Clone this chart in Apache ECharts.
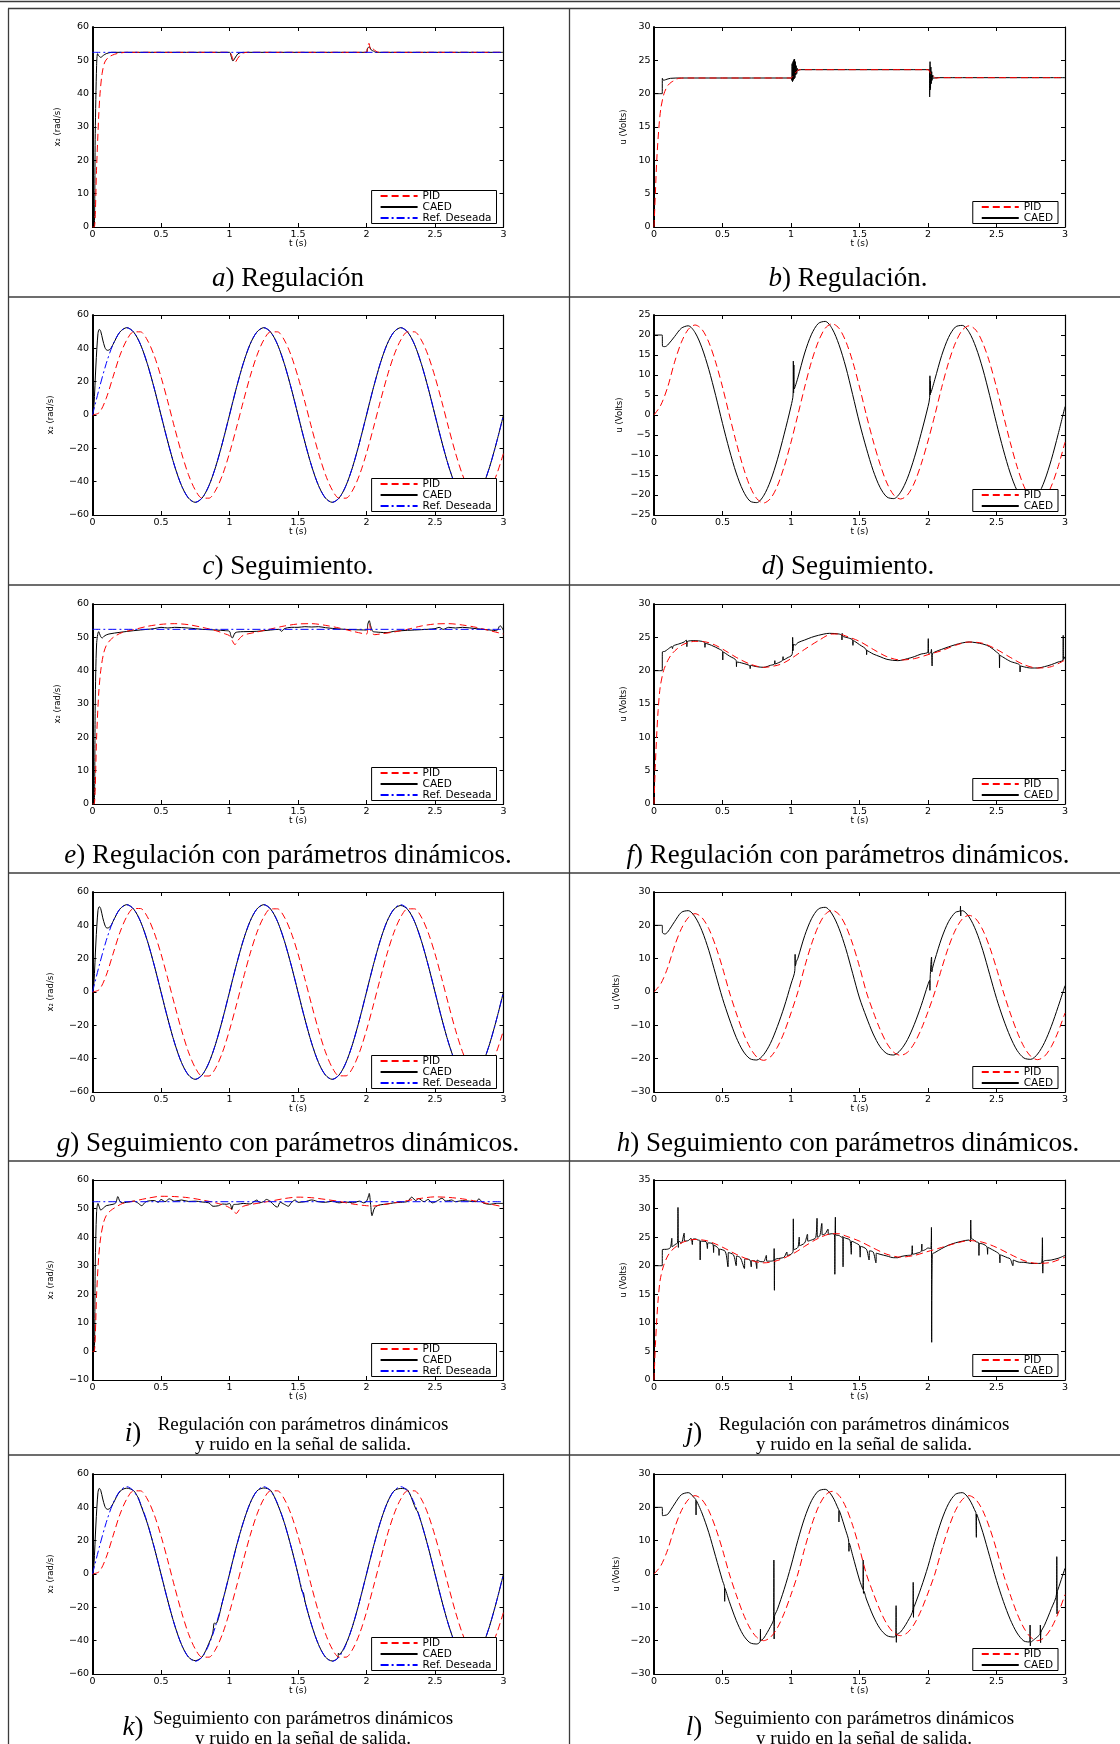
<!DOCTYPE html>
<html>
<head>
<meta charset="utf-8">
<title>Regulación y seguimiento: PID vs CAED</title>
<script src="https://cdn.jsdelivr.net/npm/echarts@6/dist/echarts.min.js"></script>
<style>
    html, body { margin: 0; padding: 0; background: #fff; }
    #main { width: 1120px; height: 1744px; }
</style>
</head>
<body>
<div id="main"></div>
<script>
;(function () {
    'use strict';

    // rejilla de tiempo de los ensayos de seguimiento (paso 0.05 s)
    var T = [0,0.05,0.1,0.15,0.2,0.25,0.3,0.35,0.4,0.45,0.5,0.55,0.6,0.65,0.7,0.75,0.8,0.85,0.9,0.95,
        1,1.05,1.1,1.15,1.2,1.25,1.3,1.35,1.4,1.45,1.5,1.55,1.6,1.65,1.7,1.75,1.8,1.85,1.9,1.95,
        2,2.05,2.1,2.15,2.2,2.25,2.3,2.35,2.4,2.45,2.5,2.55,2.6,2.65,2.7,2.75,2.8,2.85,2.9,2.95,3];

    // a) regulacion, x2
    var aRef = [[0,52.4],[3,52.4]];
    var aCAED = [[0,0],[0.012,0],[0.02,28],[0.03,48.5],[0.037,52.0],[0.045,51.4],[0.06,50.9],[0.08,51.5],[0.1,52.0],[0.14,52.4],
        [1.0,52.4],[1.012,51.2],[1.025,49.8],[1.04,50.7],[1.06,51.9],[1.08,52.3],[1.12,52.4],
        [2.0,52.4],[2.006,53.4],[2.02,54.1],[2.035,53.1],[2.05,52.8],[2.07,52.4],[3,52.4]];
    var aPID = [[0,0],[0.013,0],[0.03,18],[0.045,33],[0.055,40],[0.07,46],[0.09,49.5],[0.12,51.0],[0.16,51.8],[0.2,52.2],[0.25,52.4],
        [1.0,52.4],[1.015,51.5],[1.03,49.8],[1.04,49.4],[1.06,50.6],[1.08,51.6],[1.1,52.2],[1.13,52.4],
        [2.0,52.4],[2.008,54.0],[2.018,55.1],[2.03,53.2],[2.04,53.6],[2.06,53.0],[2.08,52.5],[2.1,52.4],[3,52.4]];

    // b) regulacion, u
    var bCAED = [[0,20],[0.06,20],[0.061,22.3],[0.07,22.0],[0.085,22.1],[0.12,22.3],[0.2,22.35],[1.0,22.35],
        [1.005,22.0],[1.008,24.5],[1.011,21.8],[1.014,24.8],[1.017,22.0],[1.02,25.1],[1.023,22.2],[1.026,25.2],[1.029,22.4],
        [1.032,24.8],[1.035,22.8],[1.038,24.2],[1.042,23.0],[1.046,23.8],[1.05,23.5],[1.07,23.6],[2.0,23.6],[2.01,23.6],
        [2.012,19.5],[2.015,24.8],[2.018,20.6],[2.021,24.0],[2.024,21.5],[2.027,23.3],[2.03,22.0],[2.035,22.8],[2.04,22.3],
        [2.06,22.4],[3,22.4]];
    var bPID = [[0,0],[0.005,2.5],[0.01,5],[0.02,10],[0.036,15],[0.05,17.8],[0.073,20],[0.1,21.2],[0.125,21.7],[0.15,22.0],
        [0.18,22.3],[0.25,22.35],[1.0,22.35],[1.02,22.8],[1.04,23.3],[1.06,23.6],[2.0,23.6],[2.02,23.0],[2.04,22.6],
        [2.06,22.3],[2.08,22.4],[3,22.4]];

    // c) seguimiento, x2
    var cRef = [0,16.2,30.8,42.4,49.8,52.4,49.8,42.4,30.8,16.2,0,-16.2,-30.8,-42.4,-49.8,-52.4,-49.8,-42.4,-30.8,-16.2,
        0,16.2,30.8,42.4,49.8,52.4,49.8,42.4,30.8,16.2,0,-16.2,-30.8,-42.4,-49.8,-52.4,-49.8,-42.4,-30.8,-16.2,
        0,16.2,30.8,42.4,49.8,52.4,49.8,42.4,30.8,16.2,0,-16.2,-30.8,-42.4,-49.8,-52.4,-49.8,-42.4,-30.8,-16.2,0];
    var cCAED = [0,51.4,39.2,42.4,49.8,52.4,49.8,42.4,30.8,16.2,0,-16.2,-30.8,-42.4,-49.8,-52.4,-49.8,-42.4,-30.8,-16.2,
        0,16.2,30.8,42.4,49.8,52.4,49.8,42.4,30.8,16.2,0,-16.2,-30.8,-42.4,-49.8,-52.4,-49.8,-42.4,-30.8,-16.2,
        0,16.2,30.8,42.4,49.8,52.4,49.8,42.4,30.8,16.2,0,-16.2,-30.8,-42.4,-49.8,-52.4,-49.8,-42.4,-30.8,-16.2,0];
    var cCAEDx = [[0.01,5],[0.025,30],[0.04,49],[0.06,50.2],[0.075,45],[0.09,40.6],[0.11,38.8],[0.125,39.2],[0.14,40.8]];
    var cPID = [0,1.5,10,22.9,35.7,45.0,49.9,49.9,45.0,35.7,22.9,7.9,-7.9,-22.9,-35.7,-45.0,-49.9,-49.9,-45.0,-35.7,
        -22.9,-7.9,7.9,22.9,35.7,45.0,49.9,49.9,45.0,35.7,22.9,7.9,-7.9,-22.9,-35.7,-45.0,-49.9,-49.9,-45.0,-35.7,
        -22.9,-7.9,7.9,22.9,35.7,45.0,49.9,49.9,45.0,35.7,22.9,7.9,-7.9,-22.9,-35.7,-45.0,-49.9,-49.9,-45.0,-35.7,-22.9];

    // d) seguimiento, u
    var dCAED = [20,20,17.5,19.6,21.7,22.3,20.6,16.8,11.4,4.9,-2.1,-8.7,-14.5,-18.9,-21.5,-21.9,-20.2,-16.5,-11.2,-4.8,
        2.2,9.3,15.5,20.2,22.9,23.4,21.6,17.6,12.0,5.1,-2.0,-8.3,-13.9,-18.1,-20.5,-20.9,-19.3,-15.8,-10.7,-4.6,
        2.1,8.9,14.9,19.4,22.0,22.4,20.7,16.9,11.5,4.9,-2.1,-8.7,-14.5,-18.9,-21.5,-21.9,-20.2,-16.5,-11.2,-4.8,2.1];
    var dCAEDx = [[0.06,20],[0.062,17.2],[0.08,17.1],
        [1.015,5.0],[1.017,13.5],[1.019,5.5],[1.021,12.5],[1.024,6.5],
        [2.012,4.3],[2.014,9.8],[2.016,5.0],[2.018,8.5],[2.02,5.5]];
    var dPID = [0,2.5,7.0,13.2,18.2,21.4,22.5,21.4,18.2,13.2,7.0,0,-6.8,-12.9,-17.8,-20.9,-22.0,-20.9,-17.8,-12.9,
        -6.8,0,7.0,13.4,18.4,21.7,22.8,21.7,18.4,13.4,7.0,0,-6.5,-12.3,-17.0,-20.0,-21.0,-20.0,-17.0,-12.3,
        -6.5,0,6.9,13.1,18.0,21.2,22.3,21.2,18.0,13.1,6.9,0,-6.8,-12.9,-17.8,-20.9,-22.0,-20.9,-17.8,-12.9,-6.8];

    // e) regulacion con parametros dinamicos, x2
    var eRef = [[0,52.4],[3,52.4]];
    var eCAED = [[0,0],[0.012,0],[0.02,30],[0.03,48],[0.045,51.7],[0.06,50.2],[0.07,49.8],[0.09,50.5],[0.12,51.0],[0.2,51.5],
        [0.3,52.0],[0.4,52.4],[0.45,52.6],[0.5,53.0],[0.55,52.8],[0.6,53.0],[0.7,52.8],[0.8,52.4],[0.9,52.2],[0.97,52.0],
        [1.0,51.8],[1.01,50.5],[1.02,49.8],[1.04,51.3],[1.06,51.6],[1.1,51.7],[1.2,51.8],[1.3,52.2],[1.36,52.4],[1.38,51.8],
        [1.4,52.6],[1.45,53.0],[1.5,53.0],[1.55,53.2],[1.6,53.1],[1.65,53.2],[1.7,52.9],[1.8,52.5],[1.9,52.3],[2.0,52.2],
        [2.01,54.0],[2.02,55.0],[2.03,53.5],[2.045,51.8],[2.07,51.6],[2.1,51.5],[2.15,51.4],[2.2,51.8],[2.3,52.1],[2.4,52.3],
        [2.5,52.6],[2.53,53.0],[2.56,52.4],[2.6,53.0],[2.65,52.8],[2.7,53.0],[2.8,52.6],[2.9,52.2],[2.95,52.0],[2.975,53.5],
        [2.99,52.8],[3,52.0]];
    var ePID = [[0,0],[0.012,0],[0.03,20],[0.045,33],[0.06,40],[0.08,45],[0.1,47.5],[0.13,49.2],[0.17,50.5],[0.22,51.5],
        [0.3,52.3],[0.4,53.3],[0.5,53.9],[0.6,54.1],[0.7,53.8],[0.8,53.0],[0.9,52.0],[0.97,51.0],[1.0,50.5],[1.02,49.0],
        [1.04,47.8],[1.06,49.0],[1.1,50.6],[1.2,51.6],[1.3,52.5],[1.4,53.4],[1.5,54.0],[1.6,54.1],[1.7,53.6],[1.8,52.8],
        [1.9,51.8],[2.0,51.0],[2.01,53.0],[2.02,54.0],[2.035,51.5],[2.06,50.8],[2.1,51.0],[2.2,51.6],[2.3,52.4],[2.4,53.4],
        [2.5,54.0],[2.6,54.1],[2.7,53.7],[2.8,53.0],[2.9,52.0],[3,51.0]];

    // f) regulacion con parametros dinamicos, u
    var fCAED = [[0,20],[0.06,20],[0.061,22.8],[0.08,22.9],[0.1,23.2],[0.13,23.6],[0.135,23.3],[0.14,23.7],[0.18,24.0],
        [0.22,24.3],[0.235,24.6],[0.24,23.6],[0.245,24.4],[0.3,24.5],[0.35,24.4],[0.37,24.2],[0.372,23.5],[0.375,24.1],
        [0.42,23.8],[0.48,23.2],[0.5,22.9],[0.502,21.6],[0.505,22.8],[0.55,22.2],[0.6,21.5],[0.602,20.6],[0.605,21.3],
        [0.65,21.1],[0.7,20.7],[0.702,20.3],[0.705,20.8],[0.75,20.6],[0.8,20.5],[0.85,20.8],[0.88,21.0],[0.882,21.5],
        [0.884,21.0],[0.92,21.3],[0.94,21.6],[0.942,22.1],[0.944,21.6],[0.98,22.0],[1.0,22.2],[1.01,22.6],[1.012,25.0],
        [1.015,23.0],[1.02,24.0],[1.03,23.8],[1.05,24.2],[1.1,24.6],[1.15,25.0],[1.2,25.3],[1.28,25.6],[1.35,25.5],
        [1.37,25.3],[1.372,24.6],[1.374,25.6],[1.376,25.2],[1.42,24.9],[1.45,24.6],[1.452,23.8],[1.455,24.5],[1.5,23.9],
        [1.55,23.1],[1.552,22.4],[1.555,23.0],[1.6,22.5],[1.65,22.1],[1.7,21.7],[1.78,21.5],[1.85,21.8],[1.9,22.1],
        [1.95,22.5],[1.98,22.6],[2.0,22.8],[2.002,24.8],[2.004,22.6],[2.02,22.7],[2.025,23.2],[2.03,20.7],[2.032,22.5],
        [2.05,22.8],[2.1,23.2],[2.2,23.9],[2.3,24.3],[2.4,24.0],[2.45,23.6],[2.5,22.8],[2.52,22.4],[2.522,20.4],[2.525,22.3],
        [2.6,21.4],[2.67,20.8],[2.672,19.8],[2.675,20.7],[2.75,20.4],[2.8,20.4],[2.85,20.6],[2.9,20.9],[2.95,21.3],
        [2.985,21.6],[2.987,25.3],[2.99,21.7],[3,22.1]];
    var fPID = [[0,0],[0.005,3],[0.01,6],[0.02,10.5],[0.03,14],[0.045,17.5],[0.07,20],[0.1,21.5],[0.13,22.5],[0.17,23.3],
        [0.22,24.0],[0.3,24.4],[0.38,24.3],[0.45,23.8],[0.52,23.0],[0.6,22.0],[0.7,21.0],[0.8,20.5],[0.9,20.8],[0.95,21.2],
        [1.0,21.8],[1.05,22.5],[1.1,23.2],[1.2,24.5],[1.3,25.5],[1.35,25.5],[1.4,25.2],[1.5,24.4],[1.6,23.2],[1.7,22.1],
        [1.8,21.6],[1.9,21.8],[2.0,22.4],[2.05,22.7],[2.1,23.0],[2.2,23.8],[2.3,24.3],[2.4,24.1],[2.5,23.2],[2.6,22.0],
        [2.7,20.9],[2.8,20.4],[2.9,20.6],[3,21.6]];

    // g) seguimiento con parametros dinamicos, x2
    var gRef = [0,16.2,30.8,42.4,49.8,52.4,49.8,42.4,30.8,16.2,0,-16.2,-30.8,-42.4,-49.8,-52.4,-49.8,-42.4,-30.8,-16.2,
        0,16.2,30.8,42.4,49.8,52.4,49.8,42.4,30.8,16.2,0,-16.2,-30.8,-42.4,-49.8,-52.4,-49.8,-42.4,-30.8,-16.2,
        0,16.2,30.8,42.4,49.8,52.4,49.8,42.4,30.8,16.2,0,-16.2,-30.8,-42.4,-49.8,-52.4,-49.8,-42.4,-30.8,-16.2,0];
    var gCAED = [0,51.2,38.6,42.4,49.8,52.4,49.8,42.4,30.8,16.2,0,-16.2,-30.8,-42.4,-49.8,-52.4,-49.8,-42.4,-30.8,-16.2,
        0,16.2,30.8,42.4,49.8,52.4,49.8,42.4,30.8,16.2,0,-16.2,-30.8,-42.4,-49.8,-52.4,-49.8,-42.4,-30.8,-16.2,
        0,16.2,30.8,42.4,49.6,51.9,49.6,42.4,30.8,16.2,0,-16.2,-30.8,-42.4,-49.8,-52.4,-49.8,-42.4,-30.8,-16.2,0];
    var gCAEDx = [[0.01,5],[0.025,30],[0.04,49],[0.06,50],[0.075,44.5],[0.09,40.2],[0.11,38.4],[0.125,38.9],[0.14,40.6]];
    var gPID = [0,1.5,10,22.9,35.7,45.2,50.1,50.1,45.2,35.7,22.9,7.9,-7.9,-22.9,-35.9,-45.4,-50.4,-50.4,-45.4,-35.9,
        -22.9,-7.9,7.9,22.9,35.7,45.0,49.9,49.9,45.0,35.7,22.9,7.9,-7.9,-22.9,-35.9,-45.4,-50.3,-50.3,-45.4,-35.9,
        -22.9,-7.9,7.9,22.9,35.7,45.0,49.9,49.9,45.0,35.7,22.9,7.9,-7.9,-22.9,-35.7,-45.0,-49.9,-49.9,-45.0,-35.7,-22.9];

    // h) seguimiento con parametros dinamicos, u
    var hCAED = [20,20,18.0,21.1,23.9,24.4,22.5,18.4,12.5,5.3,-1.9,-8.1,-13.6,-17.7,-20.0,-20.4,-18.8,-15.4,-10.4,-4.5,
        2.4,10.1,16.9,22.0,24.9,25.4,23.4,19.1,13.0,5.6,-1.8,-7.5,-12.6,-16.4,-18.5,-18.9,-17.4,-14.3,-9.7,-4.1,
        2.3,9.7,16.2,21.1,23.9,24.4,22.5,18.4,12.5,5.3,-1.9,-8.1,-13.4,-17.5,-19.8,-20.2,-18.6,-15.2,-10.3,-4.4,1.9];
    var hCAEDx = [[0.06,20],[0.062,17.8],[0.08,17.4],
        [1.028,6.5],[1.03,11.3],[1.032,7.8],[1.04,9.2],
        [2.012,3.5],[2.014,0.5],[2.016,4.5],[2.026,10.5],[2.028,6.0],[2.035,7.5],
        [2.235,24.4],[2.237,25.8],[2.239,22.8],[2.241,24.3]];
    var hPID = [0,2.5,7.3,13.8,19.0,22.3,23.5,22.3,19.0,13.8,7.3,0,-6.3,-12.1,-16.6,-19.5,-20.5,-19.5,-16.6,-12.1,
        -6.3,0,7.6,14.4,19.8,23.3,24.5,23.3,19.8,14.4,7.6,0,-5.9,-11.2,-15.4,-18.1,-19.0,-18.1,-15.4,-11.2,
        -5.9,0,7.1,13.5,18.6,21.9,23.0,21.9,18.6,13.5,7.1,0,-6.3,-11.9,-16.4,-19.3,-20.3,-19.3,-16.4,-11.9,-6.3];

    // i) regulacion con parametros dinamicos y ruido, x2
    var iRef = [[0,52.4],[3,52.4]];
    var iCAED = [[0,0],[0.012,0],[0.02,30],[0.03,49],[0.04,51.8],[0.05,50.5],[0.06,49.5],[0.08,50.2],[0.1,51.0],[0.15,51.5],
        [0.17,52.0],[0.185,54.2],[0.2,52.5],[0.22,52.0],[0.25,52.2],[0.3,52.6],[0.33,52.0],[0.36,51.0],[0.38,52.0],[0.4,52.6],
        [0.45,52.8],[0.48,52.2],[0.5,53.2],[0.53,52.4],[0.56,53.4],[0.6,52.6],[0.65,53.0],[0.7,52.5],[0.75,52.6],[0.8,52.3],
        [0.85,52.0],[0.88,50.8],[0.92,51.0],[0.95,51.6],[0.98,51.5],[1.0,51.8],[1.01,51.0],[1.017,49.7],[1.03,51.4],
        [1.06,51.5],[1.1,51.8],[1.15,51.6],[1.18,52.5],[1.2,53.0],[1.22,52.0],[1.25,52.5],[1.27,53.2],[1.3,52.4],[1.33,51.0],
        [1.35,50.5],[1.37,52.2],[1.4,51.5],[1.43,50.8],[1.45,52.0],[1.48,53.0],[1.5,52.2],[1.55,52.4],[1.6,53.0],[1.65,52.4],
        [1.7,52.2],[1.75,52.6],[1.8,52.0],[1.85,52.3],[1.9,52.0],[1.95,52.6],[1.98,52.0],[2.0,52.5],[2.015,54.5],[2.02,55.3],
        [2.03,51.5],[2.04,47.5],[2.055,49.8],[2.07,50.8],[2.1,51.3],[2.15,51.6],[2.2,52.0],[2.25,52.2],[2.3,52.5],[2.33,54.0],
        [2.36,52.8],[2.38,53.5],[2.42,52.4],[2.45,53.2],[2.48,52.0],[2.52,52.8],[2.55,53.6],[2.58,52.6],[2.62,53.0],
        [2.65,52.4],[2.7,52.8],[2.75,52.6],[2.8,52.4],[2.82,53.4],[2.85,52.0],[2.9,51.5],[2.95,51.8],[3,51.8]];
    var iPID = [[0,0],[0.012,0],[0.03,20],[0.045,33],[0.06,40],[0.08,45],[0.1,47.5],[0.13,49.2],[0.17,50.5],[0.22,51.8],
        [0.3,52.6],[0.4,53.6],[0.5,54.3],[0.6,54.2],[0.7,53.8],[0.8,53.0],[0.9,52.0],[0.97,51.0],[1.0,50.3],[1.03,49.0],
        [1.05,48.3],[1.07,49.5],[1.1,50.8],[1.2,51.8],[1.3,52.6],[1.4,53.5],[1.5,54.0],[1.6,53.8],[1.7,53.2],[1.8,52.5],
        [1.9,51.6],[2.0,51.0],[2.05,50.9],[2.1,51.2],[2.2,52.0],[2.3,52.8],[2.4,53.6],[2.5,54.1],[2.6,53.9],[2.7,53.4],
        [2.8,52.6],[2.9,51.6],[3,50.6]];

    // j) regulacion con parametros dinamicos y ruido, u
    var jCAED = [[0,20],[0.06,20],[0.061,22.8],[0.1,22.9],[0.12,23.2],[0.13,24.8],[0.132,23.3],[0.16,23.8],[0.172,24.0],
        [0.175,30.2],[0.178,23.2],[0.182,24.3],[0.2,24.0],[0.22,25.7],[0.223,24.3],[0.25,24.4],[0.27,24.8],[0.28,23.7],
        [0.283,24.6],[0.3,24.7],[0.32,24.5],[0.335,24.4],[0.337,21.0],[0.34,24.3],[0.38,24.2],[0.39,23.0],[0.393,24.0],
        [0.43,23.8],[0.435,22.3],[0.438,23.6],[0.47,23.0],[0.475,21.8],[0.478,22.9],[0.52,22.5],[0.54,19.8],[0.543,22.3],
        [0.58,21.9],[0.6,20.0],[0.603,21.7],[0.63,21.4],[0.66,19.5],[0.663,21.2],[0.7,21.0],[0.71,19.8],[0.713,20.9],
        [0.74,20.8],[0.75,19.5],[0.753,21.0],[0.78,20.7],[0.8,20.7],[0.82,21.8],[0.823,20.8],[0.85,20.8],[0.875,21.0],
        [0.877,23.0],[0.879,15.7],[0.881,21.0],[0.92,21.3],[0.95,21.5],[0.97,22.4],[0.973,21.8],[1.0,22.0],[1.015,22.5],
        [1.017,28.2],[1.02,22.8],[1.05,23.2],[1.06,25.0],[1.063,23.5],[1.1,24.0],[1.12,25.5],[1.123,24.3],[1.15,24.5],
        [1.18,24.9],[1.19,28.3],[1.193,25.0],[1.21,25.2],[1.225,27.4],[1.228,25.4],[1.25,25.6],[1.27,26.4],[1.273,25.5],
        [1.3,25.6],[1.318,25.4],[1.32,18.5],[1.322,25.8],[1.324,28.5],[1.326,25.4],[1.35,25.3],[1.37,25.0],[1.378,25.1],
        [1.38,19.8],[1.382,25.0],[1.4,24.8],[1.43,24.5],[1.44,22.0],[1.443,24.3],[1.47,24.0],[1.5,23.5],[1.505,21.5],
        [1.508,23.4],[1.55,22.9],[1.57,21.0],[1.573,22.6],[1.6,22.4],[1.62,20.5],[1.623,22.2],[1.65,22.0],[1.7,21.7],
        [1.75,21.4],[1.78,21.4],[1.8,21.6],[1.85,21.8],[1.88,21.9],[1.885,23.5],[1.888,22.0],[1.92,22.2],[1.95,22.5],
        [1.955,23.8],[1.958,22.6],[1.98,22.8],[2.0,23.1],[2.02,23.0],[2.025,26.7],[2.027,6.6],[2.029,6.6],[2.031,22.0],
        [2.05,22.3],[2.1,23.0],[2.15,23.6],[2.2,24.0],[2.25,24.3],[2.3,24.5],[2.31,24.2],[2.312,28.0],[2.315,24.8],
        [2.33,24.6],[2.35,24.2],[2.37,24.0],[2.372,21.8],[2.375,23.9],[2.4,23.8],[2.43,23.3],[2.435,22.0],[2.438,23.2],
        [2.47,22.8],[2.5,22.4],[2.52,22.0],[2.525,20.5],[2.528,21.9],[2.58,21.4],[2.6,21.2],[2.62,20.0],[2.623,21.0],
        [2.67,20.6],[2.7,20.6],[2.75,20.4],[2.8,20.4],[2.83,20.5],[2.835,24.9],[2.838,18.7],[2.841,20.7],[2.9,21.0],
        [2.95,21.3],[3,21.8]];
    var jPID = [[0,0],[0.005,3],[0.01,6],[0.02,10.5],[0.03,14],[0.045,17.5],[0.07,20],[0.1,21.7],[0.13,22.7],[0.17,23.5],
        [0.22,24.2],[0.3,24.6],[0.38,24.4],[0.45,23.8],[0.52,23.0],[0.6,22.0],[0.7,21.0],[0.8,20.5],[0.9,20.9],[1.0,21.9],
        [1.05,22.6],[1.1,23.4],[1.2,24.8],[1.3,25.6],[1.35,25.6],[1.4,25.2],[1.5,24.3],[1.6,23.1],[1.7,22.0],[1.8,21.5],
        [1.9,21.8],[2.0,22.5],[2.1,23.2],[2.2,23.9],[2.3,24.4],[2.4,24.1],[2.5,23.2],[2.6,22.0],[2.7,20.9],[2.8,20.4],
        [2.9,20.6],[3,21.5]];

    // k) seguimiento con parametros dinamicos y ruido, x2
    var kRef = [0,16.2,30.8,42.4,49.8,52.4,49.8,42.4,30.8,16.2,0,-16.2,-30.8,-42.4,-49.8,-52.4,-49.8,-42.4,-30.8,-16.2,
        0,16.2,30.8,42.4,49.8,52.4,49.8,42.4,30.8,16.2,0,-16.2,-30.8,-42.4,-49.8,-52.4,-49.8,-42.4,-30.8,-16.2,
        0,16.2,30.8,42.4,49.8,52.4,49.8,42.4,30.8,16.2,0,-16.2,-30.8,-42.4,-49.8,-52.4,-49.8,-42.4,-30.8,-16.2,0];
    var kCAED = [0,51.4,39.2,42.2,49.5,51.5,50.0,42.0,30.5,16.0,0,-16.2,-30.8,-42.4,-49.8,-52.0,-49.8,-41.5,-29.8,-16.2,
        0,16.5,30.8,42.4,49.8,51.6,50.2,42.0,30.8,16.2,0,-16.2,-30.8,-42.4,-49.8,-52.2,-48.2,-42.0,-30.8,-16.2,
        0,16.2,30.8,42.4,49.8,51.3,50.4,41.0,30.8,16.2,0,-16.2,-30.8,-42.4,-49.8,-52.4,-49.8,-42.4,-30.8,-16.2,0];
    var kCAEDx = [[0.01,5],[0.025,30],[0.04,49],[0.06,50.2],[0.075,45],[0.09,40.6],[0.11,38.8],[0.125,39.2],[0.14,40.8],
        [0.33,46.3],[0.335,45.7],[0.878,-35.5],[0.886,-29.8],[0.894,-29.4],[1.53,-10.6],[1.54,-11.2],
        [1.79,-50.5],[1.795,-47.5],[2.365,38.2],[2.372,37.8]];
    var kPID = [0,1.5,10,22.9,35.7,45.0,49.9,49.9,45.0,35.7,22.9,7.9,-7.9,-22.9,-35.7,-45.0,-49.9,-49.9,-45.0,-35.7,
        -22.9,-7.9,7.9,22.9,35.7,45.0,49.9,49.9,45.0,35.7,22.9,7.9,-7.9,-22.9,-35.7,-45.0,-49.9,-49.9,-45.0,-35.7,
        -22.9,-7.9,7.9,22.9,35.7,45.0,49.9,49.9,45.0,35.7,22.9,7.9,-7.9,-22.9,-35.7,-45.0,-49.9,-49.9,-45.0,-35.7,-22.9];

    // l) seguimiento con parametros dinamicos y ruido, u
    var lCAED = [20,20,17.9,21.0,23.8,24.4,22.6,18.3,12.4,5.2,-2.0,-8.3,-13.9,-18.2,-20.6,-21.0,-19.3,-15.8,-10.7,-4.6,
        2.4,10.1,16.9,22.0,24.9,25.4,23.4,19.1,13.0,5.6,-1.8,-7.5,-12.6,-16.4,-18.5,-18.9,-17.4,-14.3,-9.7,-4.1,
        2.3,9.7,16.2,21.1,23.9,24.4,22.5,18.4,12.5,5.3,-1.9,-8.2,-13.6,-17.7,-20.1,-20.5,-18.8,-15.4,-10.4,-4.5,1.7];
    var lCAEDx = [[0.06,20],[0.062,17.5],[0.08,17.6],
        [0.305,22.3],[0.307,17.7],[0.309,22.0],
        [0.514,-3.8],[0.516,-8.2],[0.518,-4.3],
        [0.775,-20.2],[0.777,-16.5],[0.779,-20.0],
        [0.873,-13.5],[0.875,4.2],[0.877,-19.5],[0.879,-12.8],
        [1.348,19.3],[1.35,15.6],[1.352,19.0],
        [1.421,9.9],[1.423,6.8],[1.425,9.3],
        [1.525,-4.6],[1.527,4.2],[1.529,-5.8],[1.531,-5.1],
        [1.765,-18.5],[1.767,-9.5],[1.769,-20.5],[1.771,-18.3],
        [1.89,-10.6],[1.892,-2.5],[1.894,-13.0],[1.896,-10.1],
        [2.351,18.3],[2.353,11.0],[2.355,18.0],
        [2.743,-20.4],[2.745,-15.3],[2.747,-21.6],[2.749,-20.5],
        [2.818,-17.9],[2.82,-15.3],[2.822,-20.6],[2.824,-17.6],
        [2.938,-6.0],[2.94,5.2],[2.942,-12.0],[2.944,-5.3]];
    var lPID = [0,2.5,7.3,13.8,19.0,22.3,23.5,22.3,19.0,13.8,7.3,0,-6.2,-11.8,-16.2,-19.0,-20.0,-19.0,-16.2,-11.8,
        -6.2,0,7.7,14.6,20.1,23.6,24.8,23.6,20.1,14.6,7.7,0,-5.7,-10.9,-15.0,-17.6,-18.5,-17.6,-15.0,-10.9,
        -5.7,0,7.3,13.8,19.0,22.3,23.5,22.3,19.0,13.8,7.3,0,-6.2,-11.8,-16.2,-19.0,-20.0,-19.0,-16.2,-11.8,-6.2];

    // valores sobre la rejilla T + puntos sueltos (transitorios, picos)
    function onT(vals, extra) {
        var pts = [];
        for (var i = 0; i < T.length; i++) {
            pts.push([T[i], vals[i]]);
        }
        (extra || []).forEach(function (p) { pts.push(p); });
        pts.sort(function (a, b) { return a[0] - b[0]; });
        return pts;
    }

    var X2 = 'x\u2082 (rad/s)';
    var U = 'u (Volts)';

    var panels = [
        {col: 0, row: 0, y: [0, 60, 10], name: X2, gap: 30, caed: aCAED, pid: aPID, ref: aRef},
        {col: 1, row: 0, y: [0, 30, 5], name: U, gap: 25.5, caed: bCAED, pid: bPID},
        {col: 0, row: 1, y: [-60, 60, 20], name: X2, gap: 37.5, caed: onT(cCAED, cCAEDx), pid: onT(cPID), ref: onT(cRef)},
        {col: 1, row: 1, y: [-25, 25, 5], name: U, gap: 30, caed: onT(dCAED, dCAEDx), pid: onT(dPID)},
        {col: 0, row: 2, y: [0, 60, 10], name: X2, gap: 30, caed: eCAED, pid: ePID, ref: eRef},
        {col: 1, row: 2, y: [0, 30, 5], name: U, gap: 25.5, caed: fCAED, pid: fPID},
        {col: 0, row: 3, y: [-60, 60, 20], name: X2, gap: 37.5, caed: onT(gCAED, gCAEDx), pid: onT(gPID), ref: onT(gRef)},
        {col: 1, row: 3, y: [-30, 30, 10], name: U, gap: 33, caed: onT(hCAED, hCAEDx), pid: onT(hPID)},
        {col: 0, row: 4, y: [-10, 60, 10], name: X2, gap: 37.5, caed: iCAED, pid: iPID, ref: iRef},
        {col: 1, row: 4, y: [0, 35, 5], name: U, gap: 25.5, caed: jCAED, pid: jPID},
        {col: 0, row: 5, y: [-60, 60, 20], name: X2, gap: 37.5, caed: onT(kCAED, kCAEDx), pid: onT(kPID), ref: onT(kRef)},
        {col: 1, row: 5, y: [-30, 30, 10], name: U, gap: 33, caed: onT(lCAED, lCAEDx), pid: onT(lPID)}
    ];

    var captions = [
        ['a', 'Regulación'], ['b', 'Regulación.'],
        ['c', 'Seguimiento.'], ['d', 'Seguimiento.'],
        ['e', 'Regulación con parámetros dinámicos.'], ['f', 'Regulación con parámetros dinámicos.'],
        ['g', 'Seguimiento con parámetros dinámicos.'], ['h', 'Seguimiento con parámetros dinámicos.'],
        ['i', 'Regulación con parámetros dinámicos', 'y ruido en la señal de salida.'],
        ['j', 'Regulación con parámetros dinámicos', 'y ruido en la señal de salida.'],
        ['k', 'Seguimiento con parámetros dinámicos', 'y ruido en la señal de salida.'],
        ['l', 'Seguimiento con parámetros dinámicos', 'y ruido en la señal de salida.']
    ];

    var W = 1120, H = 1744;
    var GW = 411, GH = 200;
    var colLeft = [92.5, 654];
    var rowTop = [27, 315, 604, 892, 1180, 1474];
    var rowRule = [297, 585, 873, 1161, 1455];
    var SANS = 'DejaVu Sans';
    var SERIF = '"Liberation Serif"';

    function minus(v) {
        return v < 0 ? '\u2212' + (-v) : String(v);
    }

    function axisBase(g, isX, pos, showLabel, lineW) {
        return {
            gridIndex: g,
            type: 'value',
            position: pos,
            axisLine: {show: true, onZero: false, lineStyle: {color: '#000', width: lineW}},
            axisTick: {show: true, inside: true, length: 4, lineStyle: {color: '#000', width: 1}},
            axisLabel: {show: showLabel, color: '#000', fontFamily: SANS, fontSize: 9.5, margin: isX ? 3 : 3.5, formatter: minus},
            splitLine: {show: false},
            nameMoveOverlap: false
        };
    }

    function line(name, data, g, color, type) {
        return {
            name: name, type: 'line', xAxisIndex: 2 * g, yAxisIndex: 2 * g, data: data,
            symbol: 'none', showSymbol: false, smooth: 0.3, silent: true, animation: false,
            lineStyle: {color: color, width: 1, type: type},
            itemStyle: {color: color}
        };
    }

    var option = {
        animation: false,
        backgroundColor: '#fff',
        grid: [], xAxis: [], yAxis: [], series: [], legend: [], graphic: []
    };

    panels.forEach(function (p, g) {
        var left = colLeft[p.col], top = rowTop[p.row];
        option.grid.push({left: left, top: top, width: GW, height: GH, containLabel: false, outerBoundsMode: 'none'});

        var xb = axisBase(g, true, 'bottom', true, 1.2);
        xb.min = 0; xb.max = 3; xb.interval = 0.5;
        xb.name = 't (s)'; xb.nameLocation = 'middle'; xb.nameGap = 12;
        xb.nameTextStyle = {color: '#000', fontFamily: SANS, fontSize: 9};
        var xt = axisBase(g, true, 'top', false, 1.2);
        xt.min = 0; xt.max = 3; xt.interval = 0.5;
        option.xAxis.push(xb, xt);

        var yl = axisBase(g, false, 'left', true, 2);
        yl.min = p.y[0]; yl.max = p.y[1]; yl.interval = p.y[2];
        yl.name = p.name; yl.nameLocation = 'middle'; yl.nameGap = p.gap; yl.nameRotate = 90;
        yl.nameTextStyle = {color: '#000', fontFamily: SANS, fontSize: 8.5};
        var yr = axisBase(g, false, 'right', false, 1.2);
        yr.min = p.y[0]; yr.max = p.y[1]; yr.interval = p.y[2];
        option.yAxis.push(yl, yr);

        option.series.push(line('CAED', p.caed, g, '#000000', 'solid'));
        option.series.push(line('PID', p.pid, g, '#ff0000', [7, 4]));
        if (p.ref) {
            option.series.push(line('Ref. Deseada', p.ref, g, '#0000ff', [8, 3, 2, 3]));
        }

        option.legend.push({
            data: p.ref ? ['PID', 'CAED', 'Ref. Deseada'] : ['PID', 'CAED'],
            orient: 'vertical',
            right: W - (left + GW) + 7,
            bottom: H - (top + GH) + 3.5,
            itemWidth: 37, itemHeight: 10, itemGap: 0, itemTextGap: 6,
            padding: [0, 5, 0, 8],
            borderColor: '#000', borderWidth: 1, borderRadius: 0,
            backgroundColor: '#fff',
            selectedMode: false,
            itemStyle: {opacity: 0, borderWidth: 0},
            textStyle: {color: '#000', fontFamily: SANS, fontSize: 10.5, lineHeight: 10}
        });
    });

    // lineas de la tabla
    var ink = '#3c3c3c';
    function rule(x1, y1, x2, y2) {
        option.graphic.push({type: 'line', silent: true, shape: {x1: x1, y1: y1, x2: x2, y2: y2},
            style: {stroke: ink, lineWidth: 1.3}});
    }
    rule(0, 1.5, W, 1.5);
    rule(8, 8.5, W, 8.5);
    rowRule.forEach(function (y) { rule(8, y, W, y); });
    rule(8.5, 8.5, 8.5, H);
    rule(569.5, 8.5, 569.5, H);

    function text(x, y, str, size) {
        option.graphic.push({
            type: 'text', silent: true, x: x, y: y,
            style: {
                text: str, fill: '#000', font: size + 'px ' + SERIF,
                align: 'center', verticalAlign: 'middle', textAlign: 'center', textVerticalAlign: 'middle',
                rich: {it: {font: 'italic ' + size + 'px ' + SERIF, fill: '#000'}}
            }
        });
    }

    var capCenter = [288, 848];
    captions.forEach(function (c, g) {
        var p = panels[g], top = rowTop[p.row];
        if (c.length === 2) {
            text(capCenter[p.col], top + 252, '{it|' + c[0] + '}) ' + c[1], 27);
        } else {
            var lx = p.col === 0 ? 133 : 694;
            var tx = p.col === 0 ? 303 : 864;
            text(lx, top + 254, '{it|' + c[0] + '})', 27);
            text(tx, top + 245, c[1], 19);
            text(tx, top + 265, c[2], 19);
        }
    });

    var chart = echarts.init(document.getElementById('main'), null, {renderer: 'canvas'});
    chart.setOption(option);
})();
</script>
</body>
</html>
